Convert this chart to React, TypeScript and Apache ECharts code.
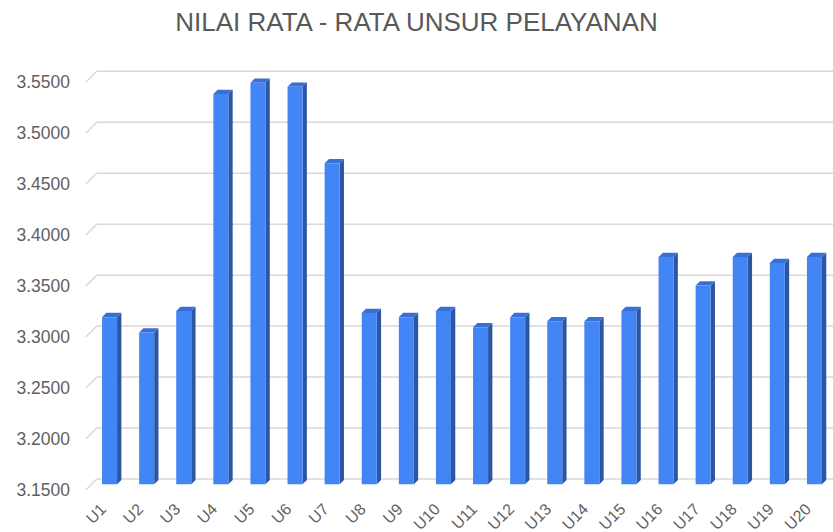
import React, { useEffect, useRef } from "react";
import * as echarts from "echarts";

const titleText = "NILAI RATA - RATA UNSUR PELAYANAN";
const categories = [
  "U1", "U2", "U3", "U4", "U5", "U6", "U7", "U8", "U9", "U10",
  "U11", "U12", "U13", "U14", "U15", "U16", "U17", "U18", "U19", "U20",
];
const values = [
  3.314, 3.299, 3.320, 3.533, 3.544, 3.540, 3.465, 3.318, 3.314, 3.320,
  3.304, 3.314, 3.310, 3.310, 3.320, 3.373, 3.345, 3.373, 3.367, 3.373,
];
const yMin = 3.15;
const yMax = 3.55;
const yStep = 0.05;
const yTicks = [3.15, 3.2, 3.25, 3.3, 3.35, 3.4, 3.45, 3.5, 3.55];

const FONT = "Liberation Sans, Arial, sans-serif";

export default function App() {
  const ref = useRef<HTMLDivElement>(null);
  useEffect(() => {
    if (!ref.current) return;
    const chart = echarts.init(ref.current, null, { renderer: "svg" });
    const depthShift = 5.3;
    const gridColor = "#d9d9d9";
    chart.setOption({
      animation: false,
      backgroundColor: "#ffffff",
      title: {
        text: titleText,
        left: "center",
        top: 4,
        textStyle: {
          fontFamily: FONT,
          fontSize: 26,
          fontWeight: "normal",
          color: "#595959",
        },
      },
      grid: {
        left: 91,
        right: 0,
        top: 71.3,
        bottom: 53,
        containLabel: false,
        outerBoundsMode: "none",
      },
      xAxis: {
        type: "category",
        data: categories,
        axisLine: { show: false },
        axisTick: { show: false },
        splitLine: { show: false },
        axisLabel: {
          interval: 0,
          rotate: 45,
          margin: 21,
          fontFamily: FONT,
          fontSize: 16,
          color: "#5f5f5f",
          formatter: (v: string) => `{t|${v}}{g|}`,
          rich: {
            t: { fontFamily: FONT, fontSize: 16, color: "#5f5f5f" },
            g: { width: 9 },
          },
        },
      },
      yAxis: {
        type: "value",
        min: yMin,
        max: yMax,
        interval: yStep,
        axisLine: { show: false },
        axisTick: { show: false },
        splitLine: { show: false },
        axisLabel: {
          margin: 21,
          fontFamily: FONT,
          fontSize: 17.5,
          lineHeight: 21,
          color: "#5f5f5f",
          formatter: (v: number) => "\n" + v.toFixed(4),
        },
      },
      series: [
        {
          type: "custom",
          silent: true,
          clip: false,
          z: 1,
          data: yTicks.map((v) => [0, v]),
          encode: { x: 0, y: 1 },
          renderItem: (params: any, api: any) => {
            const v = api.value(1);
            const y = api.coord([0, v])[1];
            const gx = params.coordSys.x;
            const right = params.coordSys.x + params.coordSys.width;
            return {
              type: "group",
              children: [
                {
                  type: "line",
                  shape: { x1: gx - 5, y1: y + 10.7, x2: gx + 5.7, y2: y },
                  style: { stroke: gridColor, lineWidth: 1.5 },
                },
                {
                  type: "line",
                  shape: { x1: gx + 5.7, y1: y, x2: right + 10, y2: y },
                  style: { stroke: gridColor, lineWidth: 1.5 },
                },
              ],
            };
          },
        },
        {
          type: "custom",
          clip: false,
          z: 2,
          data: values.map((v, i) => [i, v]),
          encode: { x: 0, y: 1 },
          renderItem: (params: any, api: any) => {
            const i = api.value(0);
            const v = api.value(1);
            const top = api.coord([i, v]);
            const base = api.coord([i, yMin]);
            const w = api.size([1, 0])[0] * 0.405;
            const d = 4.3;
            const x0 = top[0] - w / 2;
            const yt = top[1] + depthShift;
            const yb = base[1] + depthShift;
            return {
              type: "group",
              children: [
                {
                  type: "polygon",
                  shape: {
                    points: [
                      [x0 + w, yt],
                      [x0 + w + d, yt - d],
                      [x0 + w + d, yb - d],
                      [x0 + w, yb],
                    ],
                  },
                  style: { fill: "#2b56a3" },
                },
                {
                  type: "polygon",
                  shape: {
                    points: [
                      [x0, yt],
                      [x0 + d, yt - d],
                      [x0 + w + d, yt - d],
                      [x0 + w, yt],
                    ],
                  },
                  style: { fill: "#3a6fd6" },
                },
                {
                  type: "rect",
                  shape: { x: x0, y: yt, width: w, height: yb - yt },
                  style: { fill: "#4285f4" },
                },
              ],
            };
          },
        },
      ],
    });
    return () => chart.dispose();
  }, []);
  return (
    <div
      ref={ref}
      style={{ position: "absolute", left: 0, top: 0, width: 833, height: 532 }}
    />
  );
}
